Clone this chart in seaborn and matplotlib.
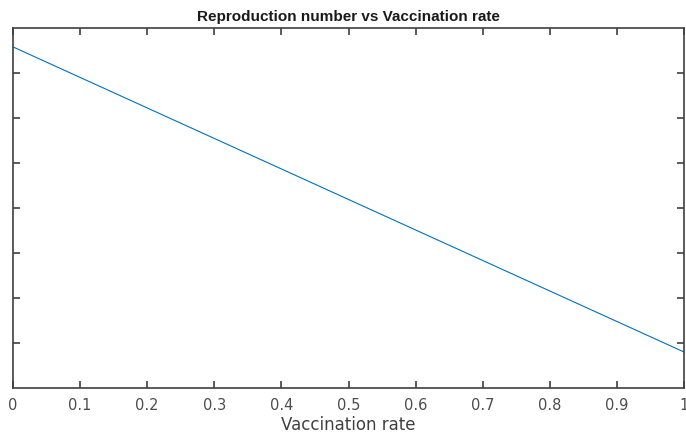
import matplotlib
matplotlib.use("Agg")
import matplotlib.pyplot as plt
import seaborn as sns
import numpy as np
import pandas as pd

vaccination_rate = [0.0, 1.0]
reproduction_number = [3.79, 0.40]
x_ticks = [0, 0.1, 0.2, 0.3, 0.4, 0.5, 0.6, 0.7, 0.8, 0.9, 1]
x_tick_labels = ["0", "0.1", "0.2", "0.3", "0.4", "0.5", "0.6", "0.7", "0.8", "0.9", "1"]
y_ticks = [0.5, 1.0, 1.5, 2.0, 2.5, 3.0, 3.5]

sns.set_theme(style="white")
plt.rcParams['font.family'] = ['DejaVu Sans']

df = pd.DataFrame({"Vaccination rate": vaccination_rate, "R": reproduction_number})

fig = plt.figure(figsize=(6.86, 4.32), dpi=100)
ax = fig.add_axes([13/686, 1 - 388/432, (684 - 13)/686, (388 - 28)/432])
sns.lineplot(data=df, x="Vaccination rate", y="R", ax=ax, color="#0072BD", linewidth=0.8)

ax.set_xlim(0, 1)
ax.set_ylim(0, 4)
ax.set_xticks(x_ticks)
ax.set_xticklabels(x_tick_labels)
ax.set_yticks(y_ticks)
ax.set_yticklabels([])
ax.set_ylabel("")
ax.set_xlabel("Vaccination rate", fontsize=12, color="#404040", labelpad=2)
ax.set_title("Reproduction number vs Vaccination rate", fontsize=11, fontweight="bold",
             color="#1a1a1a", pad=5, family=["Liberation Sans", "DejaVu Sans"])

for s in ax.spines.values():
    s.set_color("#404040")
    s.set_linewidth(1.2)
ax.tick_params(axis="both", direction="in", length=5, width=1.2, color="#404040",
               top=True, right=True, bottom=True, left=True)
ax.tick_params(axis="x", labelsize=10.5, labelcolor="#4d4d4d", pad=7)
ax.grid(False)

fig.savefig("out.png", dpi=100)
